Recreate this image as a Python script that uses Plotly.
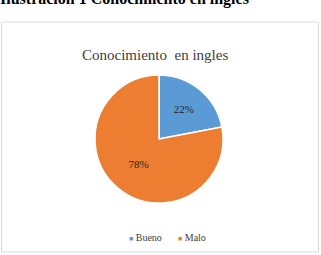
import plotly.graph_objects as go

labels = ["Bueno", "Malo"]
values = [22, 78]
colors = ["#5B9BD5", "#ED7D31"]
W, H = 321, 255

def py(p):
    return 1 - p / H

fig = go.Figure()
fig.add_trace(go.Pie(
    labels=labels, values=values, sort=False, direction="clockwise", rotation=0,
    marker=dict(colors=colors, line=dict(color="white", width=1.5)),
    textinfo="percent", textposition="inside", insidetextorientation="horizontal",
    textfont=dict(family="Liberation Serif", size=11, color="#262626"),
    domain=dict(x=[95 / W, 223 / W], y=[py(203), py(75)]),
    hoverinfo="label+percent", showlegend=False,
))

# custom compact legend (small square markers like the reference)
legend_x = [127 / W, 176 / W]
annotations = [
    dict(text="<b>Ilustración 1 Conocimiento en ingles</b>", xref="paper", yref="paper",
         x=-2 / W, xanchor="left", y=py(10), yanchor="bottom", showarrow=False,
         font=dict(family="Liberation Serif", size=16, color="black")),
    dict(text="Conocimiento  en ingles", xref="paper", yref="paper",
         x=155 / W, xanchor="center", y=py(55), yanchor="middle", showarrow=False,
         font=dict(family="Liberation Serif", size=15, color="#404040")),
]
for lab, col, lx in zip(labels, colors, legend_x):
    annotations.append(dict(
        text=f"<span style='color:{col};font-size:7px'>■</span> {lab}",
        xref="paper", yref="paper", x=lx, xanchor="left", y=py(237), yanchor="middle",
        showarrow=False, font=dict(family="Liberation Serif", size=10, color="#404040")))

fig.update_layout(
    width=W, height=H, margin=dict(l=0, r=0, t=0, b=0),
    paper_bgcolor="white", plot_bgcolor="white",
    showlegend=False,
    shapes=[dict(type="rect", xref="paper", yref="paper", x0=1.5 / W, x1=318.5 / W,
                 y0=py(252), y1=py(22), line=dict(color="#D9D9D9", width=1))],
    annotations=annotations,
)
fig.write_html("out.html")
